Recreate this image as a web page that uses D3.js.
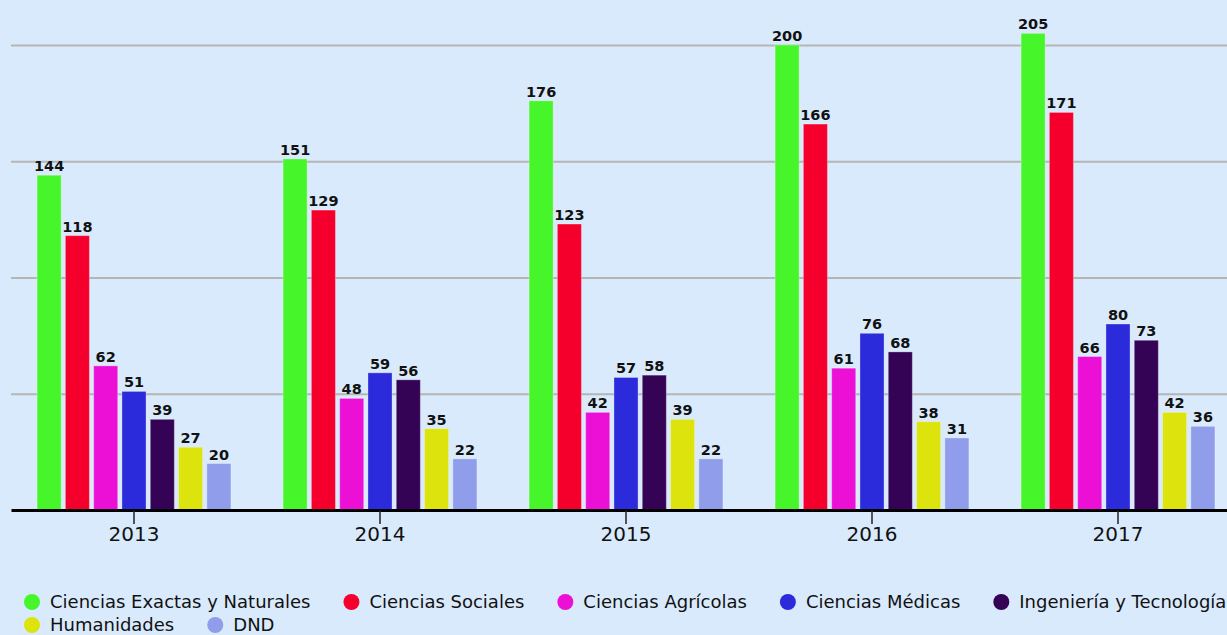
<!DOCTYPE html>
<html>
<head>
<meta charset="utf-8">
<script src="https://cdn.jsdelivr.net/npm/d3@7"></script>
<style>
  html, body { margin: 0; padding: 0; background: #d9eafc; }
  svg { display: block; font-family: "DejaVu Sans", sans-serif; }
</style>
</head>
<body>
<svg id="chart" width="1227" height="635"></svg>
<script>
// data
const years = ["2013", "2014", "2015", "2016", "2017"];
const fields = ["Ciencias Exactas y Naturales", "Ciencias Sociales", "Ciencias Agrícolas",
  "Ciencias Médicas", "Ingeniería y Tecnología", "Humanidades", "DND"];
const colors = ["#46f52a", "#f5002d", "#ec10d6", "#2b2bdc", "#350355", "#dde30d", "#8f9deb"];
const exactas    = [144, 151, 176, 200, 205];
const sociales   = [118, 129, 123, 166, 171];
const agricolas  = [62, 48, 42, 61, 66];
const medicas    = [51, 59, 57, 76, 80];
const ingenieria = [39, 56, 58, 68, 73];
const humanidades = [27, 35, 39, 38, 42];
const dnd        = [20, 22, 22, 31, 36];
const series = [exactas, sociales, agricolas, medicas, ingenieria, humanidades, dnd];
const gridValues = [50, 100, 150, 200];

const width = 1227, height = 635;
const svg = d3.select("#chart");

const x0 = d3.scaleBand().domain(years).range([11, 1241]).paddingInner(0.212).paddingOuter(0.106);
const x1 = d3.scaleBand().domain(fields).range([0, x0.bandwidth()]).paddingInner(0.15);
const y = d3.scaleLinear().domain([0, 200]).range([510, 45]);
const color = d3.scaleOrdinal().domain(fields).range(colors);

// gridlines
const grid = svg.append("g")
  .attr("transform", "translate(11,0)")
  .call(d3.axisLeft(y).tickValues(gridValues).tickSize(-(width - 11)).tickFormat(""));
grid.select(".domain").remove();
grid.selectAll("line").attr("stroke", "#b5b5b5").attr("stroke-width", 2);

// bars
const rows = years.map((yr, i) => fields.map((f, j) => ({ year: yr, field: f, value: series[j][i] })));

const groups = svg.append("g").selectAll("g")
  .data(rows)
  .join("g")
  .attr("transform", d => `translate(${x0(d[0].year)},0)`);

groups.selectAll("rect")
  .data(d => d)
  .join("rect")
  .attr("x", d => x1(d.field))
  .attr("y", d => y(d.value))
  .attr("width", x1.bandwidth())
  .attr("height", d => y(0) - y(d.value))
  .attr("fill", d => color(d.field))
  .attr("stroke", "rgba(255,255,255,0.3)")
  .attr("stroke-width", 1);

groups.selectAll("text")
  .data(d => d)
  .join("text")
  .attr("x", d => x1(d.field) + x1.bandwidth() / 2)
  .attr("y", d => y(d.value) - 4)
  .attr("text-anchor", "middle")
  .attr("font-size", 14.5)
  .attr("font-weight", "bold")
  .attr("fill", "#111")
  .text(d => d.value);

// x axis
const xAxis = svg.append("g")
  .attr("transform", `translate(0,${y(0)})`)
  .call(d3.axisBottom(x0).tickSize(14).tickSizeOuter(0));
xAxis.select(".domain").attr("stroke", "#000").attr("stroke-width", 3);
xAxis.selectAll(".tick line").attr("stroke", "#222").attr("stroke-width", 1.5);
xAxis.selectAll(".tick text").attr("font-size", 20).attr("fill", "#111")
  .attr("font-family", "DejaVu Sans, sans-serif");

// legend
const legend = svg.append("g");
let lx = 32, ly = 602;
fields.forEach((f, i) => {
  const item = legend.append("g");
  item.append("circle").attr("r", 8).attr("fill", colors[i]);
  const t = item.append("text")
    .attr("x", 18).attr("dy", "0.35em")
    .attr("font-size", 18).attr("fill", "#111")
    .text(f);
  const w = t.node().getComputedTextLength();
  if (lx + 40 > width) { lx = 32; ly += 23; }
  item.attr("transform", `translate(${lx},${ly})`);
  lx += 18 + w + 41;
});
</script>
</body>
</html>
